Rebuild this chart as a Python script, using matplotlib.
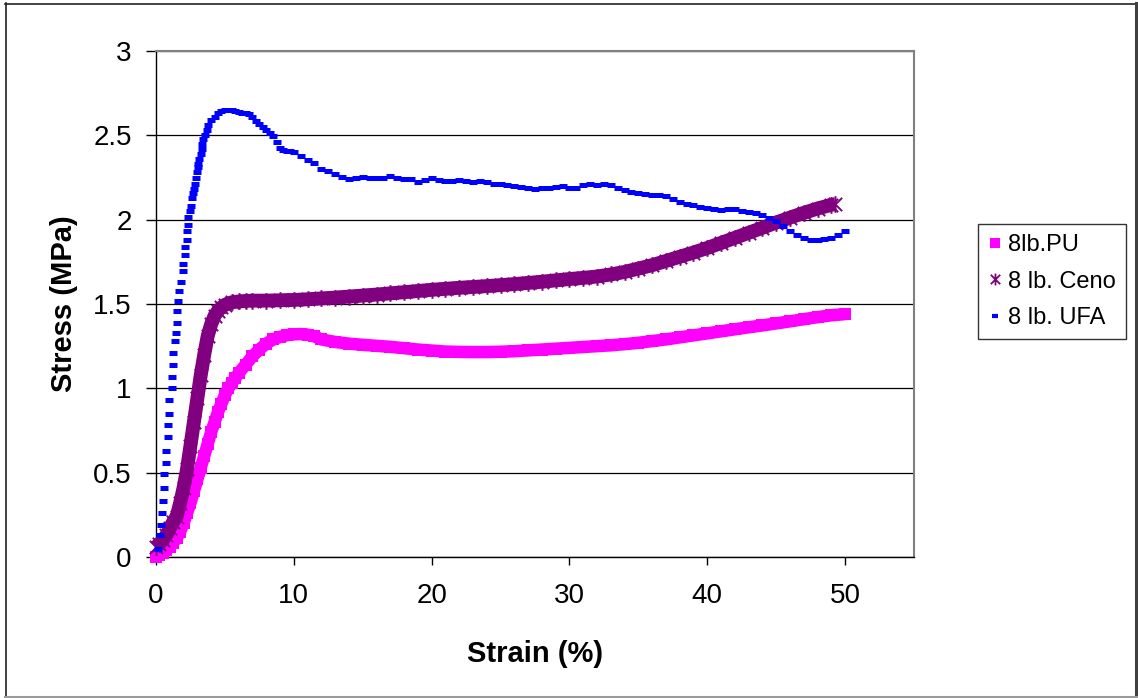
import matplotlib
matplotlib.use("Agg")
import matplotlib.pyplot as plt
from matplotlib.lines import Line2D
from matplotlib.path import Path

plt.rcParams['font.family'] = ['Liberation Sans', 'DejaVu Sans']

# ---- data: strain (%) / stress (MPa) ----
pu_strain = [0, 0.25, 0.5, 0.75, 1.0, 1.25, 1.5, 1.75, 2.0, 2.25, 2.5, 2.75, 3.0, 3.25,
             3.5, 3.75, 4.0, 4.25, 4.5, 4.75, 5.0, 5.25, 5.5, 5.75, 6.0, 6.5, 7.0, 7.5,
             8.0, 8.5, 9.0, 9.5, 10.0, 10.5, 11.0, 11.5, 12, 13, 14, 15, 16, 17, 18, 19,
             20, 21, 22, 23, 24, 25, 26, 27, 28, 29, 30, 31, 32, 33, 34, 35, 36, 37, 38,
             39, 40, 41, 42, 43, 44, 45, 46, 47, 48, 49, 50]
pu_stress = [0.0, 0.01, 0.025, 0.04, 0.06, 0.085, 0.11, 0.15, 0.2, 0.26, 0.32, 0.39, 0.46,
             0.53, 0.6, 0.67, 0.74, 0.8, 0.86, 0.91, 0.96, 1.0, 1.03, 1.06, 1.09, 1.14,
             1.19, 1.23, 1.265, 1.29, 1.305, 1.315, 1.32, 1.322, 1.318, 1.308, 1.29, 1.275,
             1.265, 1.258, 1.252, 1.246, 1.238, 1.23, 1.224, 1.218, 1.216, 1.215, 1.215,
             1.217, 1.22, 1.225, 1.23, 1.235, 1.24, 1.245, 1.25, 1.255, 1.262, 1.27, 1.28,
             1.29, 1.302, 1.314, 1.326, 1.338, 1.35, 1.362, 1.373, 1.385, 1.397, 1.41,
             1.422, 1.433, 1.44]

ceno_strain = [0, 0.25, 0.5, 0.75, 1.0, 1.25, 1.5, 1.75, 2.0, 2.25, 2.5, 2.75, 3.0, 3.25,
               3.5, 3.75, 4.0, 4.25, 4.5, 4.75, 5.0, 5.5, 6.0, 6.5, 7, 8, 9, 10, 11, 12,
               13, 14, 15, 16, 17, 18, 19, 20, 21, 22, 23, 24, 25, 26, 27, 28, 29, 30, 31,
               32, 33, 34, 35, 36, 37, 38, 39, 40, 41, 42, 43, 44, 45, 46, 47, 48, 49, 49.3]
ceno_stress = [0.06, 0.08, 0.1, 0.13, 0.17, 0.21, 0.24, 0.32, 0.41, 0.52, 0.66, 0.8, 0.94,
               1.08, 1.2, 1.31, 1.38, 1.43, 1.46, 1.48, 1.495, 1.51, 1.515, 1.518, 1.52,
               1.52, 1.522, 1.524, 1.528, 1.533, 1.538, 1.544, 1.55, 1.556, 1.563, 1.57,
               1.577, 1.584, 1.59, 1.596, 1.601, 1.606, 1.612, 1.618, 1.625, 1.632, 1.64,
               1.648, 1.655, 1.663, 1.675, 1.69, 1.71, 1.73, 1.755, 1.78, 1.805, 1.832,
               1.862, 1.892, 1.922, 1.952, 1.983, 2.012, 2.04, 2.066, 2.088, 2.092]

ufa_strain = [0.17, 0.29, 0.34, 0.46, 0.48, 0.60, 0.60, 0.72, 0.72, 0.85, 0.85, 0.94, 0.94,
              1.14, 1.14, 1.25, 1.25, 1.38, 1.43, 1.55, 1.55, 1.62, 1.67, 1.81, 1.96, 1.96,
              2.10, 2.10, 2.22, 2.22, 2.34, 2.34, 2.46, 2.51, 2.63, 2.70, 2.78, 2.83, 2.88,
              2.95, 3.02, 3.07, 3.14, 3.24, 3.31, 3.36, 3.43, 3.55, 3.67, 3.79, 4.0, 4.25,
              4.5, 4.75, 5.0, 5.25, 5.5, 5.75, 6.0, 6.25, 6.5, 6.75, 7.0, 7.25, 7.5, 7.75,
              8.0, 8.25, 8.5, 8.75, 9.0, 9.25, 9.5, 9.75, 10.0, 10.5, 11.0, 11.5, 12.0, 12.5,
              13.0, 13.5, 14.0, 14.5, 15.0, 15.5, 16.0, 16.5, 17.0, 17.5, 18.0, 18.5, 19.0,
              19.5, 20.0, 20.5, 21.0, 21.5, 22.0, 22.5, 23.0, 23.5, 24.0, 24.5, 25.0, 25.5,
              26.0, 26.5, 27.0, 27.5, 28.0, 28.5, 29.0, 29.5, 30.0, 30.5, 31.0, 31.5, 32.0,
              32.5, 33.0, 33.5, 34.0, 34.5, 35.0, 35.5, 36.0, 36.5, 37.0, 37.5, 38.0, 38.5,
              39.0, 39.5, 40.0, 40.5, 41.0, 41.5, 42.0, 42.5, 43.0, 43.5, 44.0, 44.5, 45.0,
              45.5, 46.0, 46.5, 47.0, 47.5, 48.0, 48.5, 49.0, 49.5, 50.0]
ufa_stress = [0.05, 0.13, 0.19, 0.26, 0.33, 0.41, 0.49, 0.56, 0.63, 0.71, 0.78, 0.85, 0.93,
              1.00, 1.07, 1.14, 1.21, 1.28, 1.33, 1.39, 1.46, 1.52, 1.58, 1.63, 1.695, 1.74,
              1.79, 1.84, 1.88, 1.93, 1.97, 2.015, 2.05, 2.08, 2.126, 2.156, 2.18, 2.21,
              2.245, 2.28, 2.31, 2.33, 2.36, 2.39, 2.42, 2.45, 2.476, 2.50, 2.53, 2.56, 2.59,
              2.61, 2.63, 2.645, 2.65, 2.652, 2.65, 2.645, 2.64, 2.632, 2.63, 2.625, 2.61,
              2.585, 2.565, 2.55, 2.53, 2.515, 2.495, 2.46, 2.425, 2.415, 2.41, 2.405, 2.40,
              2.38, 2.355, 2.335, 2.30, 2.29, 2.27, 2.255, 2.24, 2.245, 2.254, 2.25, 2.25,
              2.25, 2.258, 2.245, 2.243, 2.24, 2.225, 2.235, 2.245, 2.235, 2.232, 2.232,
              2.233, 2.228, 2.222, 2.228, 2.225, 2.21, 2.21, 2.205, 2.198, 2.195, 2.187,
              2.183, 2.186, 2.19, 2.195, 2.20, 2.19, 2.188, 2.205, 2.21, 2.203, 2.21, 2.205,
              2.19, 2.175, 2.162, 2.157, 2.15, 2.146, 2.145, 2.14, 2.125, 2.106, 2.095,
              2.086, 2.078, 2.072, 2.065, 2.058, 2.065, 2.063, 2.052, 2.045, 2.04, 2.028,
              2.01, 1.99, 1.96, 1.935, 1.91, 1.893, 1.882, 1.88, 1.883, 1.892, 1.91, 1.932]

series_labels = ['8lb.PU', '8 lb. Ceno', '8 lb. UFA']
x_ticks = [0, 10, 20, 30, 40, 50]
y_ticks = [0, 0.5, 1, 1.5, 2, 2.5, 3]
y_tick_labels = ['0', '0.5', '1', '1.5', '2', '2.5', '3']

PU_COLOR = '#FF00FF'
CENO_COLOR = '#800080'
UFA_COLOR = '#0000FF'

# Excel-style asterisk: an "x" with a vertical bar through it
asterisk = Path([(-1, -1), (1, 1), (-1, 1), (1, -1), (0, -1.25), (0, 1.25)],
                [Path.MOVETO, Path.LINETO, Path.MOVETO, Path.LINETO, Path.MOVETO, Path.LINETO])

W, H = 1138, 698
fig = plt.figure(figsize=(W / 100, H / 100), dpi=100)
fig.patch.set_facecolor('white')

ax = fig.add_axes([156 / W, (H - 557) / H, (914 - 156) / W, (557 - 51) / H])
ax.set_xlim(0, 55)
ax.set_ylim(0, 3)

ax.set_axisbelow(True)
ax.yaxis.grid(True, color='black', linewidth=0.9)
ax.xaxis.grid(False)

# PU: dense square markers forming a band
ax.plot(pu_strain, pu_stress, color=PU_COLOR, lw=9.0, solid_capstyle='butt',
        solid_joinstyle='round', clip_on=False, zorder=3)
ax.plot(pu_strain, pu_stress, ls='none', marker='s', ms=8.6, mfc=PU_COLOR,
        mec=PU_COLOR, mew=0, clip_on=False, zorder=3)

# Ceno: asterisk markers
ax.plot(ceno_strain, ceno_stress, color=CENO_COLOR, lw=10.0, solid_capstyle='butt',
        solid_joinstyle='round', clip_on=False, zorder=4)
ax.plot(ceno_strain, ceno_stress, ls='none', marker=asterisk, ms=12.0, mfc='none',
        mec=CENO_COLOR, mew=1.4, clip_on=False, zorder=4)

# UFA: short dash markers
ax.plot(ufa_strain, ufa_stress, ls='none', marker='_', ms=6.0, mew=3.6,
        mec=UFA_COLOR, clip_on=False, zorder=5)

ax.set_xticks(x_ticks)
ax.set_xticklabels([str(v) for v in x_ticks])
ax.set_yticks(y_ticks)
ax.set_yticklabels(y_tick_labels)
ax.tick_params(axis='x', direction='out', length=6, width=1, pad=13, labelsize=20,
               colors='black')
ax.tick_params(axis='y', direction='out', length=7, width=1, pad=10.5, labelsize=20,
               colors='black')

for side in ('left', 'bottom'):
    ax.spines[side].set_color('black')
    ax.spines[side].set_linewidth(1.0)
for side in ('top', 'right'):
    ax.spines[side].set_color('#808080')
    ax.spines[side].set_linewidth(1.5)

ax.set_xlabel('Strain (%)', fontsize=21, fontweight='bold', labelpad=22)
ax.set_ylabel('Stress (MPa)', fontsize=21, fontweight='bold', labelpad=11)

handles = [
    Line2D([], [], ls='none', marker='s', ms=7.2, mfc=PU_COLOR, mec=PU_COLOR, mew=0),
    Line2D([], [], ls='none', marker=asterisk, ms=8.5, mfc='none', mec=CENO_COLOR, mew=1.3),
    Line2D([], [], ls='none', marker='_', ms=5.0, mew=3.0, mec=UFA_COLOR),
]
leg = fig.legend(handles, series_labels, loc='upper left',
                 bbox_to_anchor=(978 / W, 1 - 224 / H), borderaxespad=0,
                 fontsize=17, frameon=True, fancybox=False, edgecolor='black',
                 handlelength=0.6, handletextpad=0.25, labelspacing=0.62,
                 borderpad=0.42)
leg.get_frame().set_linewidth(1.0)

# outer chart frame
fig.add_artist(Line2D([5.5 / W, 5.5 / W], [1 - 3 / H, 1 - 696 / H],
                      transform=fig.transFigure, color='#222222', lw=1.2))
fig.add_artist(Line2D([5 / W, 1136 / W], [1 - 3.5 / H, 1 - 3.5 / H],
                      transform=fig.transFigure, color='#222222', lw=1.2))
fig.add_artist(Line2D([1136 / W, 1136 / W], [1 - 3 / H, 1 - 697 / H],
                      transform=fig.transFigure, color='#404040', lw=2.2))
fig.add_artist(Line2D([5 / W, 1137 / W], [1 - 696.5 / H, 1 - 696.5 / H],
                      transform=fig.transFigure, color='#9a9a9a', lw=1.5))

fig.savefig('out.png', dpi=100, facecolor='white')
